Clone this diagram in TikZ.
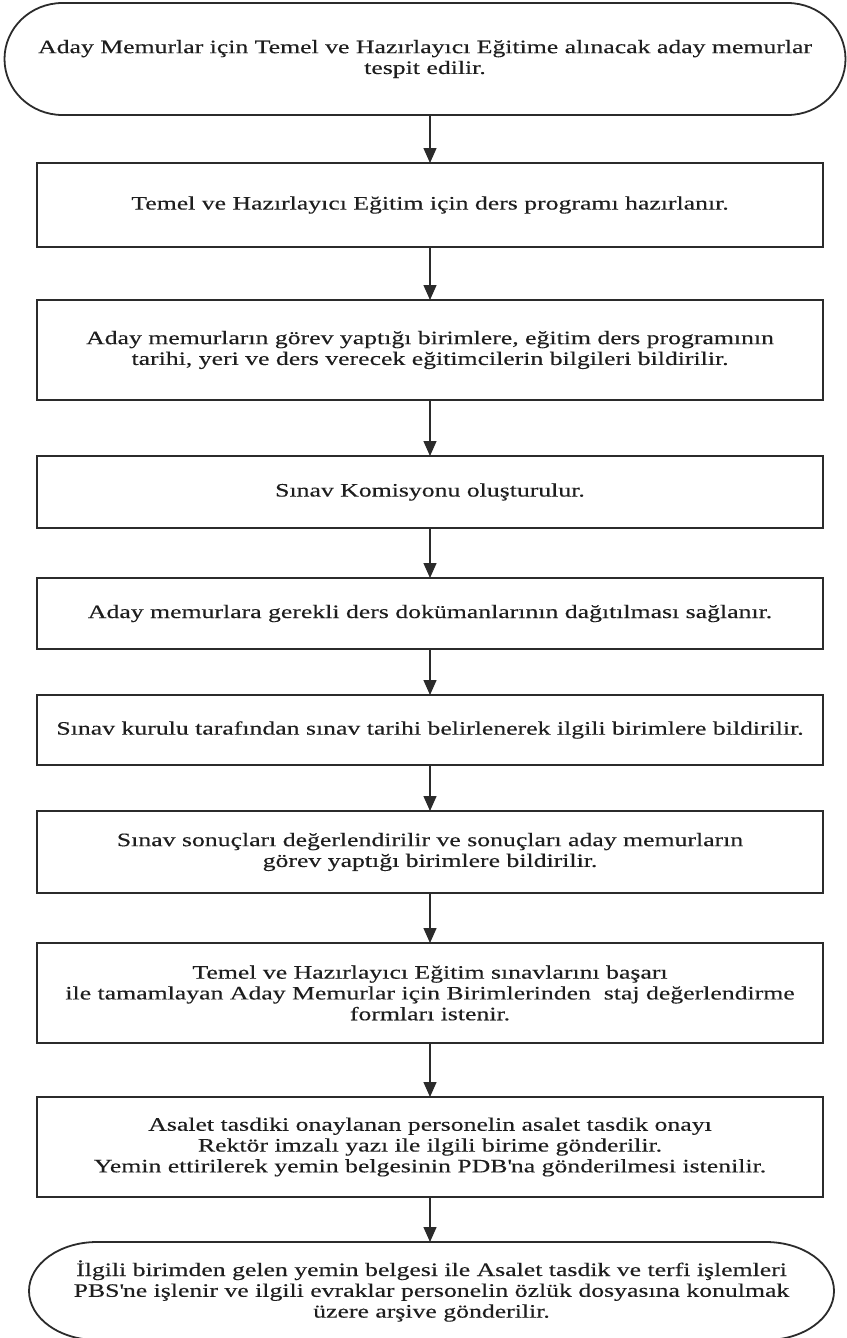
\documentclass[tikz,border=0pt]{standalone}
\usepackage{fontspec}
\setmainfont{Liberation Serif}[FakeStretch=1.355,FakeBold=0.3]
\usetikzlibrary{arrows.meta}
\definecolor{cizgiGri}{HTML}{2B2B2B}
\definecolor{yaziGri}{HTML}{1E1E1E}
\tikzset{
  akisyazi/.style={inner sep=0pt, outer sep=0pt, align=center, text=yaziGri,
    font=\fontsize{19}{20.8}\selectfont},
  adimkutu/.style={akisyazi, draw=cizgiGri, line width=1.8pt, minimum width=786pt},
  kenar/.style={draw=cizgiGri, line width=1.8pt},
  ok/.style={draw=cizgiGri, line width=1.4pt, -{Triangle[length=15pt,width=13pt]}}
}
\begin{document}
\begin{tikzpicture}[x=1pt,y=-1pt]
\useasboundingbox (0,0) rectangle (846,1338);
% baslangic
\node[akisyazi, minimum width=841pt, minimum height=112pt] (bas) at (425,59)
  {Aday Memurlar için Temel ve Hazırlayıcı Eğitime alınacak aday memurlar\\tespit edilir.};
\draw[kenar] ([xshift=58pt]bas.north west) -- ([xshift=-58pt]bas.north east)
  arc[start angle=90, end angle=-90, x radius=58pt, y radius=56pt]
  -- ([xshift=58pt]bas.south west)
  arc[start angle=270, end angle=90, x radius=58pt, y radius=56pt] -- cycle;
% adimlar
\node[adimkutu, minimum height=84pt] (adim1) at (430,205)
  {Temel ve Hazırlayıcı Eğitim için ders programı hazırlanır.};
\node[adimkutu, minimum height=100pt] (adim2) at (430,350)
  {Aday memurların görev yaptığı birimlere, eğitim ders programının\\tarihi, yeri ve ders verecek eğitimcilerin bilgileri bildirilir.};
\node[adimkutu, minimum height=72pt] (adim3) at (430,492)
  {Sınav Komisyonu oluşturulur.};
\node[adimkutu, minimum height=71pt] (adim4) at (430,613.5)
  {Aday memurlara gerekli ders dokümanlarının dağıtılması sağlanır.};
\node[adimkutu, minimum height=70pt] (adim5) at (430,730)
  {Sınav kurulu tarafından sınav tarihi belirlenerek ilgili birimlere bildirilir.};
\node[adimkutu, minimum height=82pt] (adim6) at (430,852)
  {Sınav sonuçları değerlendirilir ve sonuçları aday memurların\\görev yaptığı birimlere bildirilir.};
\node[adimkutu, minimum height=100pt] (adim7) at (430,993)
  {Temel ve Hazırlayıcı Eğitim sınavlarını başarı\\ile tamamlayan Aday Memurlar için Birimlerinden\ \ staj değerlendirme\\formları istenir.};
\node[adimkutu, minimum height=100pt] (adim8) at (430,1147)
  {Asalet tasdiki onaylanan personelin asalet tasdik onayı\\Rektör imzalı yazı ile ilgili birime gönderilir.\\Yemin ettirilerek yemin belgesinin PDB\textquotesingle na gönderilmesi istenilir.};
% bitis
\node[akisyazi, minimum width=805pt, minimum height=98pt] (son) at (431.5,1291)
  {İlgili birimden gelen yemin belgesi ile Asalet tasdik ve terfi işlemleri\\PBS\textquotesingle ne işlenir ve ilgili evraklar personelin özlük dosyasına konulmak\\üzere arşive gönderilir.};
\draw[kenar] ([xshift=68pt]son.north west) -- ([xshift=-68pt]son.north east)
  arc[start angle=90, end angle=-90, x radius=68pt, y radius=49pt]
  -- ([xshift=68pt]son.south west)
  arc[start angle=270, end angle=90, x radius=68pt, y radius=49pt] -- cycle;
% oklar
\draw[ok] (bas.south -| adim1.north) -- (adim1.north);
\foreach \i [evaluate=\i as \j using int(\i+1)] in {1,...,7}
  \draw[ok] (adim\i.south) -- (adim\j.north);
\draw[ok] (adim8.south) -- (adim8.south |- son.north);
\end{tikzpicture}
\end{document}
